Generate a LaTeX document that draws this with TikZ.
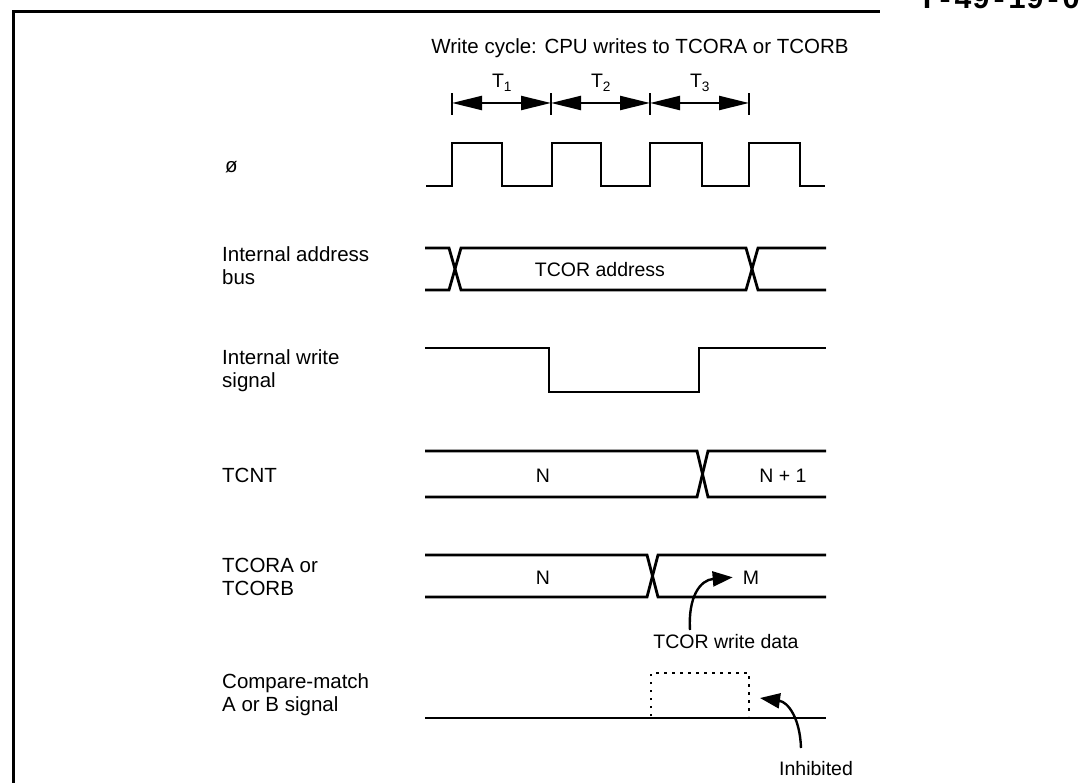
\documentclass[tikz,border=0pt]{standalone}
\usepackage{fontspec}
\setmainfont{Liberation Sans}
\newfontfamily\stampfont{Liberation Mono}
\usetikzlibrary{arrows.meta}
\begin{document}
\begin{tikzpicture}[x=1pt,y=-1pt,
  sig/.style={line width=2.8pt, line join=miter, line cap=butt},
  lbl/.style={anchor=base west, inner sep=0pt, font=\fontsize{20.5}{23}\selectfont},
  val/.style={anchor=base, inner sep=0pt, font=\fontsize{19.5}{23}\selectfont},
  dim/.style={line width=2.2pt, {Triangle[length=30pt,width=14pt]}-{Triangle[length=30pt,width=14pt]}},
  tick/.style={line width=2.2pt},
  callout/.style={line width=2.4pt, -{Triangle[length=20pt,width=15pt]}},
  frame/.style={line width=3pt}]
\useasboundingbox (0,0) rectangle (1085,783);
\fill[white] (0,0) rectangle (1085,783);
% frame
\draw[frame] (13,783) -- (13,12) -- (880,12);
\begin{scope}
\clip (0,0) rectangle (1085,783);
\node[anchor=base west, inner sep=0pt, font=\stampfont\bfseries\fontsize{30}{30}\selectfont] (stamp) at (918,9) {T-49-19-0};
\end{scope}
% title
\node[anchor=base, inner sep=0pt, font=\fontsize{20.5}{23}\selectfont] (title) at (640,54) {Write cycle: CPU writes to TCORA or TCORB};
% T labels
\node[val] (t1) at (502,88) {T\textsubscript{1}};
\node[val] (t2) at (601,88) {T\textsubscript{2}};
\node[val] (t3) at (700,88) {T\textsubscript{3}};
% dimension arrows
\coordinate (k0) at (452,103);
\coordinate (k1) at (551,103);
\coordinate (k2) at (650,103);
\coordinate (k3) at (749,103);
\foreach \k in {k0,k1,k2,k3} \draw[tick] ([yshift=-12pt]\k) -- ([yshift=10pt]\k);
\draw[dim] (k0) -- (k1);
\draw[dim] (k1) -- (k2);
\draw[dim] (k2) -- (k3);
% labels
\node[lbl] (lphi) at (225,173) {ø};
\node[lbl] (lad1) at (222,262) {Internal address};
\node[lbl] (lad2) at (222,285) {bus};
\node[lbl] (lwr1) at (222,365) {Internal write};
\node[lbl] (lwr2) at (222,388) {signal};
\node[lbl] (lcnt) at (222,483) {TCNT};
\node[lbl] (lcor1) at (222,572) {TCORA or};
\node[lbl] (lcor2) at (222,595) {TCORB};
\node[lbl] (lcm1) at (222,688) {Compare-match};
\node[lbl] (lcm2) at (222,711) {A or B signal};
% clock
\draw[sig] (426,186) -- (452,186) -- (452,143) -- (502,143) -- (502,186) -- (552,186) -- (552,143) -- (601,143) -- (601,186) -- (650,186) -- (650,143) -- (702,143) -- (702,186) -- (749,186) -- (749,143) -- (800,143) -- (800,186) -- (825,186);
% address bus
\draw[sig] (425,248) -- (449,248) -- (461,290) -- (746,290) -- (758,248) -- (826,248);
\draw[sig] (425,290) -- (449,290) -- (461,248) -- (746,248) -- (758,290) -- (826,290);
\node[val] (vaddr) at (600,277) {TCOR address};
% write signal
\draw[sig] (425,348) -- (549,348) -- (549,392) -- (699,392) -- (699,348) -- (826,348);
% TCNT
\draw[sig] (425,451) -- (697,451) -- (708,497) -- (826,497);
\draw[sig] (425,497) -- (697,497) -- (708,451) -- (826,451);
\node[val] (vn1) at (543,483) {N};
\node[val] (vn2) at (783,483) {N + 1};
% TCORA/B
\draw[sig] (425,555) -- (647,555) -- (658,597) -- (826,597);
\draw[sig] (425,597) -- (647,597) -- (658,555) -- (826,555);
\node[val] (vn3) at (543,584) {N};
\node[val] (vm) at (751,584) {M};
\node[val] (wdata) at (726,648) {TCOR write data};
\draw[callout] (690,630) .. controls (688,597) and (700,580) .. ([xshift=-10pt]vm.west);
% compare match
\draw[sig] (425,718) -- (826,718);
\draw[line width=2.5pt, dash pattern=on 2.5pt off 5.5pt] (651,716) -- (651,673) -- (749,673) -- (749,716);
\node[val] (inh) at (816,775) {Inhibited};
\draw[callout] (801,748) .. controls (800,718) and (788,702) .. (760,698);
\end{tikzpicture}
\end{document}
